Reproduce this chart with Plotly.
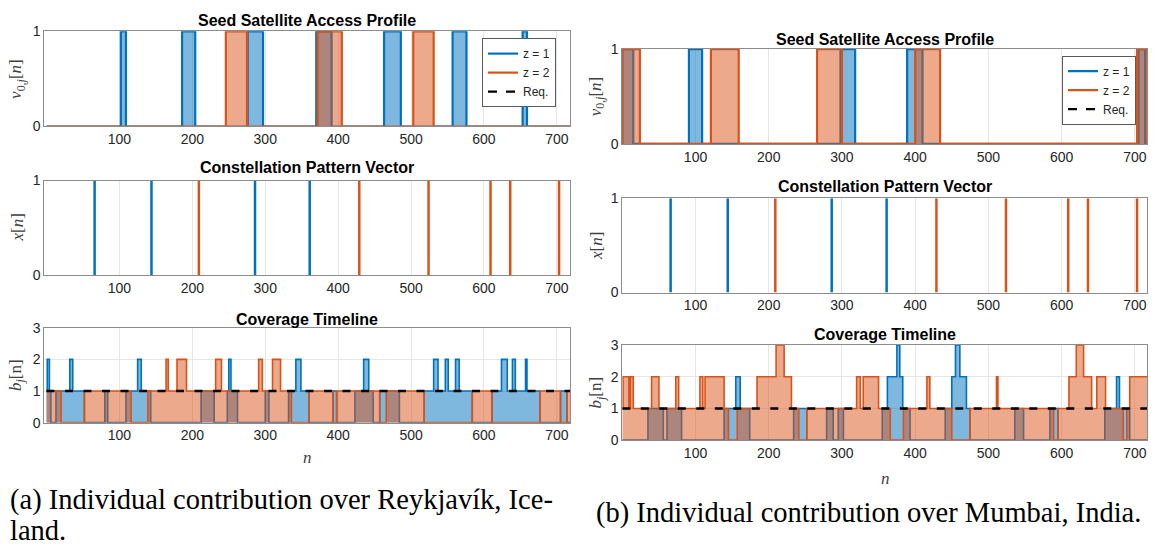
import plotly.graph_objects as go

# ---------------- data ----------------
# seed satellite access windows (start / end sample index)
blue_a_on = [102, 186, 276, 370, 463, 557, 653]
blue_a_off = [109, 204, 297, 391, 486, 576, 659]
orange_a_on = [246, 372, 503]
orange_a_off = [275, 405, 531]

blue_b_on = [0, 91, 298, 389, 705]
blue_b_off = [15, 109, 318, 410, 714]
orange_b_on = [0, 121, 266, 400, 703]
orange_b_off = [24, 159, 300, 434, 717]

# constellation pattern vector (positions of unit pulses)
pattern_blue = [66, 144, 286, 361]
pattern_orange = [209, 429, 524, 609, 636, 703]

# coverage timelines: step start positions and levels
cov_blue_a_x = [0, 1, 4, 6, 13, 32, 36, 52, 80, 84, 109, 125, 130, 143, 212, 230, 248, 250,
                253, 262, 300, 305, 332, 342, 349, 360, 393, 398, 423, 435, 442, 448, 457,
                484, 518, 531, 537, 547, 551, 561, 566, 584, 611, 624, 632, 639, 643, 657,
                659, 677, 705, 714]
cov_blue_a_y = [1, 2, 1, 0, 1, 2, 1, 0, 1, 0, 1, 2, 1, 0, 1, 0, 1, 2, 1, 0, 1, 0, 1, 2, 1, 0,
                1, 0, 1, 2, 1, 0, 1, 0, 1, 2, 1, 2, 1, 2, 1, 0, 1, 2, 1, 2, 1, 2, 1, 0, 1, 0]
cov_orange_a_x = [0, 20, 52, 116, 139, 164, 167, 179, 192, 232, 240, 291, 296, 310, 321, 336,
                  360, 393, 398, 457, 466, 518, 584, 611, 677, 705, 714]
cov_orange_a_y = [1, 0, 1, 0, 1, 2, 1, 2, 1, 2, 1, 2, 1, 2, 1, 0, 1, 0, 1, 0, 1, 0, 1, 0, 1,
                  0, 1]

cov_blue_b_x = [0, 35, 56, 61, 81, 139, 155, 161, 174, 234, 252, 279, 288, 295, 302, 355, 362,
                375, 379, 383, 393, 441, 450, 455, 461, 470, 475, 536, 548, 584, 595, 659,
                675, 679, 693]
cov_blue_b_y = [0, 1, 0, 1, 0, 1, 2, 1, 0, 1, 0, 1, 0, 1, 0, 1, 2, 3, 2, 1, 0, 1, 2, 3, 2, 1,
                0, 1, 0, 1, 0, 1, 2, 1, 0]
cov_orange_b_x = [0, 1, 9, 11, 15, 40, 50, 73, 77, 106, 110, 113, 139, 145, 157, 184, 210,
                  221, 231, 241, 252, 320, 325, 329, 350, 366, 384, 416, 420, 450, 475, 511,
                  513, 589, 595, 610, 620, 630, 641, 648, 660, 684, 689, 693]
cov_orange_b_y = [1, 2, 1, 2, 1, 2, 1, 2, 1, 2, 1, 2, 1, 0, 1, 2, 3, 2, 1, 0, 1, 2, 1, 2, 1,
                  0, 1, 2, 1, 0, 1, 2, 1, 0, 1, 2, 3, 2, 1, 2, 1, 0, 1, 2]

requirement = 1
end_a = 718
end_b = 717

x_ticks = [100, 200, 300, 400, 500, 600, 700]

# ---------------- styling ----------------
W, H = 1156, 554
BLUE = '#0072BD'
ORANGE = '#D95319'
BLUE_FILL = 'rgba(0,114,189,0.5)'
ORANGE_FILL = 'rgba(217,83,25,0.5)'
SANS = 'Liberation Sans, Arial, sans-serif'
SERIF = 'Liberation Serif, Times New Roman, serif'


def windows_to_steps(on, off, x0, x1):
    xs, ys = [x0], [0]
    for s, e in zip(on, off):
        xs += [s, e]
        ys += [1, 0]
    xs.append(x1)
    ys.append(0)
    return xs, ys


def steps(starts, levels, x1):
    return list(starts) + [x1], list(levels) + [levels[-1]]


def stems(pos):
    xs, ys = [], []
    for p in pos:
        xs += [p, p, None]
        ys += [0, 1, None]
    return xs, ys


fig = go.Figure()


def add_area(xs, ys, color, fill, xa, ya, width):
    fig.add_trace(go.Scatter(x=xs, y=ys, mode='lines', line=dict(color=color, width=width, shape='hv'),
                             fill='tozeroy', fillcolor=fill, xaxis=xa, yaxis=ya,
                             showlegend=False, hoverinfo='skip'))


panels = [
    dict(ax=('x', 'y', 'x2', 'y2', 'x3', 'y3'), end=end_a,
         bon=blue_a_on, boff=blue_a_off, oon=orange_a_on, ooff=orange_a_off,
         cbx=cov_blue_a_x, cby=cov_blue_a_y, cox=cov_orange_a_x, coy=cov_orange_a_y,
         legend='legend'),
    dict(ax=('x4', 'y4', 'x5', 'y5', 'x6', 'y6'), end=end_b,
         bon=blue_b_on, boff=blue_b_off, oon=orange_b_on, ooff=orange_b_off,
         cbx=cov_blue_b_x, cby=cov_blue_b_y, cox=cov_orange_b_x, coy=cov_orange_b_y,
         legend='legend2'),
]

for p in panels:
    xt, yt, xm, ym, xb, yb = p['ax']
    # access profile
    bx, by = windows_to_steps(p['bon'], p['boff'], 0, p['end'])
    add_area(bx, by, BLUE, BLUE_FILL, xt, yt, 2.2)
    ox, oy = windows_to_steps(p['oon'], p['ooff'], 0, p['end'])
    add_area(ox, oy, ORANGE, ORANGE_FILL, xt, yt, 2.2)
    # pattern vector
    sx, sy = stems(pattern_blue)
    fig.add_trace(go.Scatter(x=sx, y=sy, mode='lines', line=dict(color=BLUE, width=2.5),
                             xaxis=xm, yaxis=ym, showlegend=False, hoverinfo='skip'))
    sx, sy = stems(pattern_orange)
    fig.add_trace(go.Scatter(x=sx, y=sy, mode='lines', line=dict(color=ORANGE, width=2.5),
                             xaxis=xm, yaxis=ym, showlegend=False, hoverinfo='skip'))
    # coverage timeline
    cx, cy = steps(p['cbx'], p['cby'], p['end'])
    add_area(cx, cy, BLUE, BLUE_FILL, xb, yb, 1.6)
    cx, cy = steps(p['cox'], p['coy'], p['end'])
    add_area(cx, cy, ORANGE, ORANGE_FILL, xb, yb, 1.6)
    fig.add_trace(go.Scatter(x=[0, p['end']], y=[requirement, requirement], mode='lines',
                             line=dict(color='black', width=2.5, dash='8px,10.5px'),
                             xaxis=xb, yaxis=yb, showlegend=False, hoverinfo='skip'))
    # legend entries
    for name, col, dash in [('z = 1', BLUE, 'solid'), ('z = 2', ORANGE, 'solid'),
                            ('Req.', 'black', 'dash')]:
        fig.add_trace(go.Scatter(x=[None], y=[None], mode='lines', name=name,
                                 line=dict(color=col, width=2.2, dash=dash),
                                 xaxis=xt, yaxis=yt, legend=p['legend']))


def xdom(a, b):
    return [a / W, b / W]


def ydom(top, bottom):
    return [1 - bottom / H, 1 - top / H]


axis_common = dict(showline=True, mirror=True, linecolor='#8c8c8c', linewidth=1,
                   showgrid=True, gridcolor='#e6e6e6', zeroline=False, ticks='',
                   tickfont=dict(family=SANS, size=14, color='#262626'))

layout_axes = {}
a_x = xdom(44.3, 570)
b_x = xdom(622.3, 1147.3)
specs = [
    ('', a_x, [-3, end_a], ydom(24, 122), [0, 1], 'y'),
    ('2', a_x, [-3, end_a], ydom(177.7, 275), [0, 1], 'y2'),
    ('3', a_x, [-3, end_a], ydom(329.3, 427), [0, 3], 'y3'),
    ('4', b_x, [0, end_b], ydom(42.3, 140), [0, 1], 'y4'),
    ('5', b_x, [0, end_b], ydom(196, 293), [0, 1], 'y5'),
    ('6', b_x, [0, end_b], ydom(347, 445), [0, 3], 'y6'),
]
for suf, xd, xr, yd, yr, yname in specs:
    layout_axes['xaxis' + suf] = dict(domain=xd, range=xr, tickvals=x_ticks, anchor=yname,
                                      **axis_common)
    layout_axes['yaxis' + suf] = dict(domain=yd, range=yr, tickvals=list(range(yr[1] + 1)),
                                      anchor='x' + suf, **axis_common)

fig.update_layout(**layout_axes)

ann = []


def px_ann(text, x, y, size, family=SANS, color='black', angle=0, xanchor='center', bold=False):
    if bold:
        text = '<b>' + text + '</b>'
    ann.append(dict(text=text, x=x / W, y=1 - y / H, xref='paper', yref='paper',
                    showarrow=False, xanchor=xanchor, yanchor='middle', textangle=angle,
                    font=dict(family=family, size=size, color=color)))


# subplot titles
for cx, ys in [((44.3 + 570) / 2, (13, 164, 321)), ((622.3 + 1147.3) / 2, (32, 184, 336))]:
    px_ann('Seed Satellite Access Profile', cx, ys[0], 16, bold=True)
    px_ann('Constellation Pattern Vector', cx, ys[1], 16, bold=True)
    px_ann('Coverage Timeline', cx, ys[2], 16, bold=True)

# y-axis labels
ylab_top = '<i>v</i><sub>0,<i>j</i></sub>[<i>n</i>]'
ylab_mid = '<i>x</i>[<i>n</i>]'
ylab_bot = '<i>b</i><sub><i>j</i></sub>[n]'
for lx, ys in [(17, (73, 226, 378)), (597, (91, 245, 396))]:
    px_ann(ylab_top, lx, ys[0], 17, SERIF, '#404040', -90)
    px_ann(ylab_mid, lx, ys[1], 17, SERIF, '#404040', -90)
    px_ann(ylab_bot, lx, ys[2], 17, SERIF, '#404040', -90)

# x-axis labels
px_ann('<i>n</i>', 307, 463, 17, SERIF, '#404040')
px_ann('<i>n</i>', 885, 484, 17, SERIF, '#404040')

# captions
px_ann('(a) Individual contribution over Reykjavík, Ice-', 8, 507, 28.5, SERIF, 'black',
       xanchor='left')
px_ann('land.', 8, 538, 28.5, SERIF, 'black', xanchor='left')
px_ann('(b) Individual contribution over Mumbai, India.', 594, 520, 28.5, SERIF, 'black',
       xanchor='left')

legend_style = dict(bgcolor='white', bordercolor='#5a5a5a', borderwidth=1,
                    font=dict(family=SANS, size=12, color='#262626'),
                    xanchor='right', yanchor='top', tracegroupgap=0, itemwidth=30)

fig.update_layout(
    width=W, height=H, margin=dict(l=0, r=0, t=0, b=0),
    plot_bgcolor='white', paper_bgcolor='white',
    annotations=ann,
    legend=dict(x=556 / W, y=1 - 31 / H, **legend_style),
    legend2=dict(x=1136 / W, y=1 - 49 / H, **legend_style),
)

fig.write_html('out.html')
